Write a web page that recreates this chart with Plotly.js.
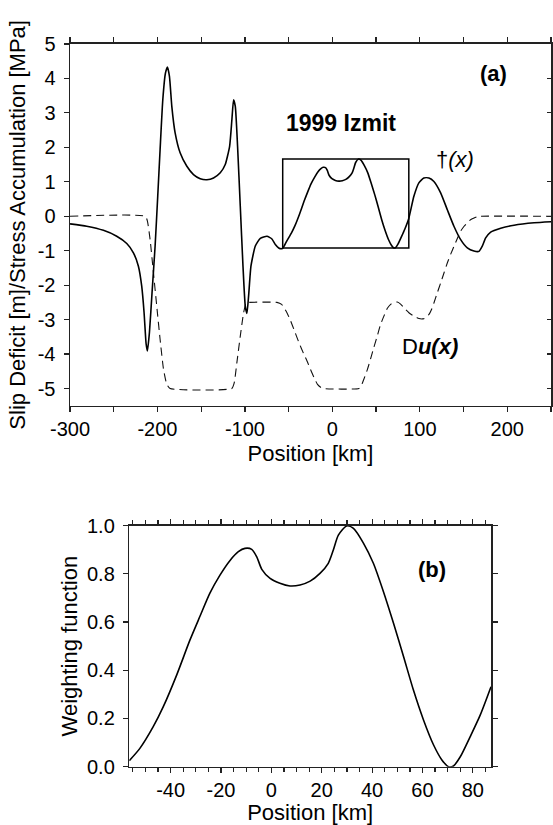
<!DOCTYPE html>
<html>
<head>
<meta charset="utf-8">
<script src="https://cdn.plot.ly/plotly-3.0.1.min.js"></script>
<style>html,body{margin:0;padding:0;background:#fff;}#chart{width:553px;height:825px;}</style>
</head>
<body>
<div id="chart"></div>
<script>
// ---- Panel (a): stress accumulation tau(x) [MPa] ----
var tauX = [-300,-280.9,-261.8,-246.6,-235.1,-227.5,-221.8,-218,-215.3,-213,-211.5,-209.2,-206.2,-202.7,-199.7,-197,-193.9,-190.9,-188.6,-186.3,-183.6,-179.8,-174.1,-166.4,-158.8,-151.1,-143.5,-135.9,-128.2,-122.5,-117.5,-114.9,-113,-111,-108.4,-105.3,-102.2,-99.6,-97.7,-95.8,-93.1,-88.2,-82.4,-74.8,-69.1,-65.2,-61.4,-57.5,-56.4,-52.2,-46.9,-42.9,-37.6,-32.3,-28.3,-24.4,-20.4,-16.4,-13.1,-10.5,-7.8,-5.8,-3.8,-0.5,3.4,7.4,11.4,15.4,19.3,22.6,24.6,26.6,29.9,32.6,36.6,40.5,44.5,48.5,52.5,56.4,60.4,64.4,67.7,70.3,72.3,75,78.9,82.9,87.2,93.2,98.9,104.6,110.4,116.1,123.8,131.4,139,146.7,154.3,161.9,167.6,171.4,175.3,181,192.5,207.8,230.7,250];
var tauY = [-0.22,-0.29,-0.41,-0.58,-0.79,-1.06,-1.45,-2.03,-2.8,-3.7,-3.91,-3.38,-2.22,-0.87,0.58,1.93,3.38,4.15,4.33,4.06,3.19,2.42,1.84,1.45,1.21,1.09,1.06,1.11,1.26,1.5,2.03,2.8,3.38,3.19,2.03,0.29,-1.45,-2.61,-2.82,-2.32,-1.45,-0.87,-0.64,-0.58,-0.66,-0.82,-0.92,-0.94,-0.92,-0.72,-0.49,-0.28,0.06,0.44,0.7,0.94,1.13,1.29,1.38,1.42,1.41,1.33,1.19,1.09,1.04,1.02,1.03,1.07,1.15,1.26,1.4,1.56,1.66,1.63,1.47,1.26,0.95,0.62,0.26,-0.1,-0.42,-0.69,-0.85,-0.92,-0.91,-0.81,-0.6,-0.37,-0.08,0.58,0.97,1.11,1.11,1.01,0.68,0.19,-0.29,-0.68,-0.92,-1.01,-1.02,-0.87,-0.63,-0.46,-0.35,-0.26,-0.19,-0.16];

// ---- Panel (a): slip deficit Du(x) [m] ----
var slipX = [-300,-214,-211.5,-208.4,-204.6,-200.8,-197,-193.1,-189.3,-185.5,-115,-112.2,-109.2,-105.3,-101.5,-98.5,-95.8,-63.4,-58,-53,-48,-43,-38,-33,-29,-25,-21,-17,-13,-10,30.3,33,36,40,43.6,47.5,51.3,55,58.9,62.7,66.6,70.5,74.2,78,81.9,87.5,93.3,98,102.9,106.7,110.5,113.5,116.2,120,123.9,127.7,131.5,135.3,139.1,143,146.8,150.6,154.4,158,162,166,169.7,250];
var slipY = [0,0,-0.14,-0.68,-1.64,-2.61,-3.57,-4.44,-4.88,-5,-5,-4.83,-4.25,-3.48,-2.8,-2.51,-2.5,-2.5,-2.56,-2.75,-3.02,-3.35,-3.68,-3.98,-4.2,-4.45,-4.68,-4.88,-4.97,-5,-5,-4.92,-4.73,-4.45,-4.15,-3.8,-3.48,-3.15,-2.9,-2.68,-2.56,-2.5,-2.49,-2.55,-2.66,-2.8,-2.9,-2.96,-2.98,-2.95,-2.85,-2.7,-2.51,-2.22,-1.93,-1.64,-1.35,-1.1,-0.87,-0.64,-0.43,-0.29,-0.19,-0.1,-0.05,-0.01,0,0];

// ---- Box marking the weighting window ----
var boxX = [-56.8, 87.4];
var boxY = [-0.92, 1.66];

// ---- Panel (b): weighting function ----
var wX = [-56.4,-52.2,-46.9,-42.9,-37.6,-32.3,-28.3,-24.4,-20.4,-16.4,-13.1,-10.5,-7.8,-5.8,-3.8,-0.5,3.4,7.4,11.4,15.4,19.3,22.6,24.6,26.6,29.9,32.6,36.6,40.5,44.5,48.5,52.5,56.4,60.4,64.4,67.7,70.3,72.3,75,78.9,82.9,87.2];
var wY = [0.025,0.076,0.166,0.249,0.38,0.526,0.625,0.72,0.795,0.856,0.892,0.906,0.902,0.871,0.819,0.781,0.761,0.75,0.754,0.77,0.802,0.844,0.899,0.961,0.999,0.989,0.927,0.844,0.726,0.595,0.456,0.318,0.194,0.09,0.028,0,0.003,0.041,0.124,0.214,0.332];

// ---- Tick labels ----
var aXTickVals = [-300, -200, -100, 0, 100, 200];
var aXTickText = ['-300', '-200', '-100', '0', '100', '200'];
var aYTickVals = [-5, -4, -3, -2, -1, 0, 1, 2, 3, 4, 5];
var aYTickText = ['-5', '-4', '-3', '-2', '-1', '0', '1', '2', '3', '4', '5'];
var bXTickVals = [-40, -20, 0, 20, 40, 60, 80];
var bXTickText = ['-40', '-20', '0', '20', '40', '60', '80'];
var bYTickVals = [0, 0.2, 0.4, 0.6, 0.8, 1.0];
var bYTickText = ['0.0', '0.2', '0.4', '0.6', '0.8', '1.0'];

var FONT = "'Liberation Sans', Arial, Helvetica, sans-serif";
var AX = '#222';

var traces = [
  {x: slipX, y: slipY, xaxis: 'x', yaxis: 'y', mode: 'lines', line: {color: '#111', width: 1.1, dash: '8px,5px', shape: 'spline', smoothing: 0.5}, hoverinfo: 'skip'},
  {x: tauX, y: tauY, xaxis: 'x', yaxis: 'y', mode: 'lines', line: {color: '#000', width: 1.6, shape: 'spline', smoothing: 0.5}, hoverinfo: 'skip'},
  {x: [], y: [], xaxis: 'x', yaxis: 'y3', mode: 'lines', hoverinfo: 'skip'},
  {x: wX, y: wY, xaxis: 'x2', yaxis: 'y2', mode: 'lines', line: {color: '#000', width: 1.6, shape: 'spline', smoothing: 0.7}, hoverinfo: 'skip'}
];

var baseAxis = {
  showgrid: false, zeroline: false, showline: true, linecolor: AX, linewidth: 1.5,
  ticks: 'outside', ticklen: 5, tickwidth: 1.2, tickcolor: AX,
  tickfont: {family: FONT, size: 20, color: '#000'}
};
function ax(o) { return Object.assign({}, baseAxis, o); }

var layout = {
  width: 553, height: 825,
  margin: {l: 0, r: 0, t: 0, b: 0},
  paper_bgcolor: '#fff', plot_bgcolor: '#fff',
  showlegend: false,
  font: {family: FONT, color: '#000'},
  xaxis: ax({
    domain: [0.1266, 0.9964], anchor: 'y', range: [-300, 250],
    tickmode: 'array', tickvals: aXTickVals, ticktext: aXTickText,
    mirror: 'ticks', minor: {tickmode: 'linear', tick0: 0, dtick: 50, ticks: 'outside', ticklen: 5, tickcolor: AX},
    title: {text: 'Position [km]', font: {family: FONT, size: 22}, standoff: 6}
  }),
  yaxis: ax({
    domain: [0.5082, 0.9467], anchor: 'x', range: [-5.5, 5],
    tickmode: 'array', tickvals: aYTickVals, ticktext: aYTickText,
    mirror: true, ticklabelstandoff: 4,
    title: {text: 'Slip Deficit [m]/Stress Accumulation [MPa]', font: {family: FONT, size: 22}, standoff: 6}
  }),
  yaxis3: {
    overlaying: 'y', side: 'right', anchor: 'x', range: [-5.5, 5],
    tickmode: 'array', tickvals: aYTickVals,
    ticks: 'inside', ticklen: 4, tickwidth: 1.2, tickcolor: AX, showticklabels: false,
    showline: false, showgrid: false, zeroline: false
  },
  xaxis2: ax({
    domain: [0.2338, 0.8879], anchor: 'y2', range: [-56.4, 87.2],
    tickmode: 'array', tickvals: bXTickVals, ticktext: bXTickText,
    mirror: 'ticks', minor: {tickmode: 'linear', tick0: 0, dtick: 5, ticks: 'outside', ticklen: 4, tickcolor: AX},
    title: {text: 'Position [km]', font: {family: FONT, size: 22}, standoff: 6}
  }),
  yaxis2: ax({
    domain: [0.0707, 0.3628], anchor: 'x2', range: [0, 1],
    tickmode: 'array', tickvals: bYTickVals, ticktext: bYTickText,
    mirror: 'ticks', ticklabelstandoff: 4,
    title: {text: 'Weighting function', font: {family: FONT, size: 22}, standoff: 3}
  }),
  shapes: [
    {type: 'rect', xref: 'x', yref: 'y', x0: boxX[0], x1: boxX[1], y0: boxY[0], y1: boxY[1], line: {color: '#000', width: 1.5}, fillcolor: 'rgba(0,0,0,0)'}
  ],
  annotations: [
    {xref: 'x', yref: 'y', x: 184, y: 4.14, text: '<b>(a)</b>', showarrow: false, font: {family: FONT, size: 22}},
    {xref: 'x', yref: 'y', x: 9.5, y: 2.72, text: '<b>1999 Izmit</b>', showarrow: false, font: {family: FONT, size: 23}},
    {xref: 'x', yref: 'y', x: 140, y: 1.64, text: '†<i>(x)</i>', showarrow: false, font: {family: FONT, size: 22}},
    {xref: 'x', yref: 'y', x: 111.5, y: -3.78, text: 'D<b><i>u(x)</i></b>', showarrow: false, font: {family: FONT, size: 22}},
    {xref: 'x2', yref: 'y2', x: 63.8, y: 0.82, text: '<b>(b)</b>', showarrow: false, font: {family: FONT, size: 22}}
  ]
};

Plotly.newPlot('chart', traces, layout, {staticPlot: true, displayModeBar: false});
</script>
</body>
</html>
